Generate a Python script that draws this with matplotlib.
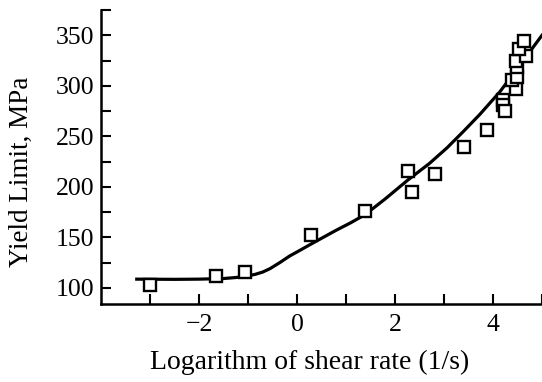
import numpy as np
import matplotlib
matplotlib.use('Agg')
import matplotlib.pyplot as plt

# measured points (log shear rate, yield limit in MPa)
log_rate = [-3.0, -1.65, -1.06, 0.28, 1.38, 2.27, 2.35, 2.82, 3.41, 3.88,
            4.20, 4.20, 4.24, 4.47, 4.39, 4.49, 4.49, 4.47, 4.67, 4.53, 4.63]
yield_lim = [103, 112, 116, 152, 176, 216, 195, 213, 239, 256,
             286, 281, 275, 297, 306, 309, 319, 325, 329, 336, 344]

# fitted curve
curve_x = [-3.27, -2.5, -2.0, -1.5, -1.25, -1.0, -0.85, -0.7, -0.55, -0.35, -0.15, 0.0,
           0.33, 0.8, 1.1, 1.39, 1.8, 2.27, 2.7, 3.06, 3.4, 3.73, 4.14, 4.55, 5.0]
curve_y = [108.6, 108.4, 108.6, 109.2, 110.2, 111.8, 113.4, 115.6, 119.0, 125.0, 131.5, 135.5,
           144.5, 157.0, 164.5, 172.5, 188.0, 207.0, 223.0, 238.5, 255.0, 271.6, 294.0, 320.6, 350.0]

plt.rcParams['font.family'] = ['Liberation Serif', 'DejaVu Serif']

fig = plt.figure(figsize=(5.42, 3.82), dpi=100)
ax = fig.add_axes([0.1863, 0.2042, 0.8137, 0.7696])

ax.plot(curve_x, curve_y, color='black', linewidth=2.3, clip_on=False,
        solid_joinstyle='round')
ax.plot(log_rate, yield_lim, linestyle='none', marker='s', markersize=8,
        markerfacecolor='white', markeredgecolor='black', markeredgewidth=1.7)

ax.set_xlim(-4, 5)
ax.set_ylim(84, 375)
ax.set_xticks([-2, 0, 2, 4])
ax.set_xticklabels(['\u22122', '0', '2', '4'])
ax.set_xticks([-3, -1, 1, 3, 5], minor=True)
ax.set_yticks([100, 150, 200, 250, 300, 350])
ax.set_yticks([125, 175, 225, 275, 325, 375], minor=True)

for s in ['top', 'right']:
    ax.spines[s].set_visible(False)
for s in ['left', 'bottom']:
    ax.spines[s].set_linewidth(1.8)

ax.tick_params(which='both', direction='in', length=7, width=1.5, labelsize=18.5)
ax.tick_params(axis='x', pad=7)
ax.tick_params(axis='y', pad=5)

ax.set_xlabel('Logarithm of shear rate (1/s)', fontsize=20)
ax.set_ylabel('Yield Limit, MPa', fontsize=19.5)
ax.xaxis.set_label_coords(0.472, -0.155)
ax.yaxis.set_label_coords(-0.152, 0.45)

fig.savefig('out.png', dpi=100)
